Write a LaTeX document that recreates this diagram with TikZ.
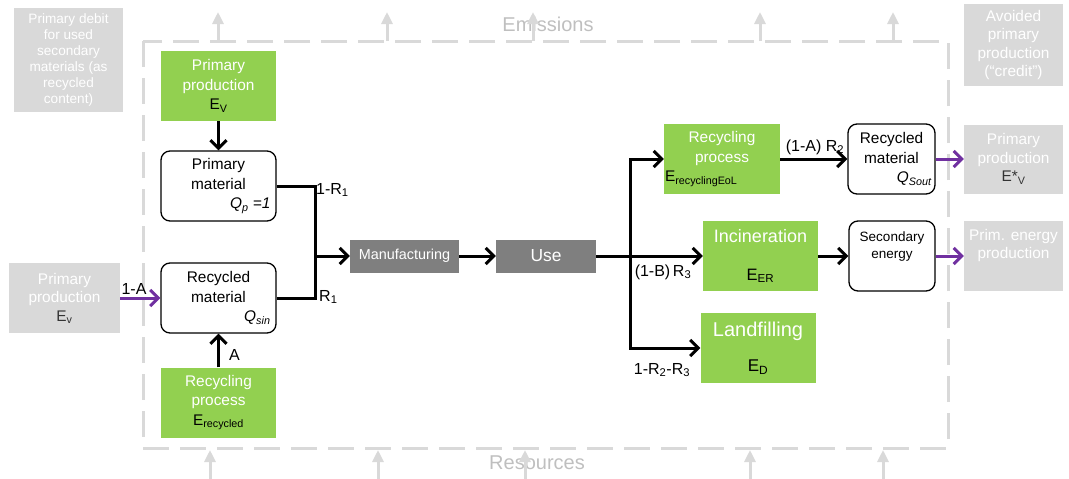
\documentclass[tikz,border=0pt]{standalone}
\usepackage{fontspec}
\setmainfont{Liberation Sans}
\usetikzlibrary{arrows.meta}
\definecolor{boxgreen}{HTML}{92D050}
\definecolor{boxgrey}{HTML}{D9D9D9}
\definecolor{darkgrey}{HTML}{7F7F7F}
\definecolor{textgrey}{HTML}{BFBFBF}
\definecolor{flowpurple}{HTML}{7030A0}

\begin{document}
\begin{tikzpicture}[x=1pt, y=-1pt,
    process/.style={fill=boxgreen, text=white, minimum width=115pt,
        minimum height=70pt, inner sep=0pt, align=center,
        font=\fontsize{15.4}{19.5}\selectfont},
    material/.style={draw=black, line width=1.3pt, rounded corners=9pt,
        fill=white, minimum width=115pt, minimum height=70pt, inner sep=0pt,
        align=center, font=\fontsize{15.4}{19.5}\selectfont},
    stage/.style={fill=darkgrey, text=white, minimum height=33pt, inner sep=0pt},
    outside/.style={fill=boxgrey, text=white, inner sep=0pt, align=center,
        font=\fontsize{15.4}{18.5}\selectfont},
    flow/.style={line width=3pt, -{Straight Barb[length=8pt,width=16pt]}},
    link/.style={line width=3pt},
    credit/.style={flow, flowpurple},
    exchange/.style={line width=3pt, boxgrey, -{Triangle[length=12pt,width=11pt]}},
    flowlabel/.style={inner sep=1pt, font=\fontsize{16}{18}\selectfont},
    boundary/.style={text=textgrey, font=\fontsize{20}{24}\selectfont}
]
    \useasboundingbox (0,0) rectangle (1069,479);

    \draw[boxgrey, line width=3pt, dash pattern=on 26pt off 11pt]
        (143,41) rectangle (948,448);
    \node[boundary] (emis) at (548,24) {Emissions};
    \node[boundary] (res) at (537,463) {Resources};
    \draw[exchange] (218,41) -- (218,12);
    \draw[exchange] (387,41) -- (387,12);
    \draw[exchange] (533,41) -- (533,12);
    \draw[exchange] (760,41) -- (760,12);
    \draw[exchange] (893,41) -- (893,12);
    \draw[exchange] (210,479) -- (210,450);
    \draw[exchange] (378,479) -- (378,450);
    \draw[exchange] (525,479) -- (525,450);
    \draw[exchange] (750,479) -- (750,450);
    \draw[exchange] (883,479) -- (883,450);

    \node[outside, minimum width=109pt, minimum height=104pt,
        font=\fontsize{13.6}{16}\selectfont] (debit) at (68.5,60)
        {Primary debit\\for used\\secondary\\materials (as\\recycled\\content)};
    \node[outside, minimum width=111pt, minimum height=70pt] (primL) at (64.5,298)
        {Primary\\production\\{\color{black!80}E\textsubscript{v}}};
    \node[outside, minimum width=99pt, minimum height=82pt] (avoided) at (1013.5,45)
        {Avoided\\primary\\production\\(“credit”)};
    \node[outside, minimum width=99pt, minimum height=69pt] (primR) at (1013.5,159)
        {Primary\\production\\{\color{black!80}E*\textsubscript{V}}};
    \node[outside, minimum width=99pt, minimum height=70pt] (energyR) at (1013.5,256)
        {Prim. energy\\production\\\strut};

    \node[process] (primprod) at (218.5,86)
        {Primary\\production\\{\color{black}E\textsubscript{V}}};
    \node[process] (recin) at (218.5,402.5)
        {Recycling\\process\\{\color{black}E\textsubscript{recycled}}};
    \node[process, minimum width=116pt] (receol) at (722,159)
        {Recycling\\process\\\makebox[114pt][l]{\color{black}E\textsubscript{recyclingEoL}}};
    \node[process, font=\fontsize{18}{22}\selectfont] (incin) at (760.5,256)
        {Incineration\\[16pt]{\color{black}\fontsize{16.5}{20}\selectfont E\textsubscript{ER}}};
    \node[process, font=\fontsize{20}{24}\selectfont] (landf) at (758,348)
        {Landfilling\\[11pt]{\color{black}\fontsize{17}{20}\selectfont E\textsubscript{D}}};

    \node[material] (pmat) at (218.5,186)
        {Primary\\material\\\makebox[104pt][r]{\itshape Q\textsubscript{p} =1}};
    \node[material] (rmat) at (218.5,298)
        {Recycled\\material\\\makebox[104pt][r]{\itshape Q\textsubscript{sin}}};
    \node[material, minimum width=87pt] (smat) at (891.5,159)
        {Recycled\\material\\\makebox[80pt][r]{\itshape Q\textsubscript{Sout}}};
    \node[material, minimum width=86pt, font=\fontsize{13.5}{17}\selectfont]
        (senergy) at (892,256) {Secondary\\energy\\\strut};

    \node[stage, minimum width=109pt, font=\fontsize{14.4}{17}\selectfont]
        (manu) at (404.5,256) {Manufacturing};
    \node[stage, minimum width=100pt, font=\fontsize{17.4}{20}\selectfont]
        (use) at (546,256) {Use};

    \coordinate (join) at (315,256);
    \coordinate (split) at (630,256);
    \draw[flow] (primprod) -- (pmat);
    \draw[link] (pmat.east) -| (join);
    \draw[link] (rmat.east) -| (join);
    \draw[flow] (join) -- (manu);
    \draw[flow] (manu) -- (use);
    \draw[link] (use) -- (split);
    \draw[flow] (split) |- (receol);
    \draw[flow] (split) -- (incin);
    \draw[flow] (split) |- (landf);
    \draw[flow] (receol) -- (smat);
    \draw[flow] (incin) -- (senergy);
    \draw[flow] (recin) -- (rmat);
    \draw[credit] (primL) -- (rmat);
    \draw[credit] (smat) -- (primR);
    \draw[credit] (senergy) -- (energyR);

    \node[flowlabel, anchor=west] (lprim) at (315,190) {1-R\textsubscript{1}};
    \node[flowlabel, anchor=west] (lsec) at (318,297) {R\textsubscript{1}};
    \node[flowlabel] (lvirgin) at (134,289) {1-A};
    \node[flowlabel, anchor=west] (lrecin) at (228,355) {A};
    \node[flowlabel] (lincin) at (663,272) {(1-B)\,R\textsubscript{3}};
    \node[flowlabel] (llandf) at (662,370) {1-R\textsubscript{2}-R\textsubscript{3}};
    \node[flowlabel] (lreceol) at (815,147) {(1-A) R\textsubscript{2}};
\end{tikzpicture}
\end{document}
